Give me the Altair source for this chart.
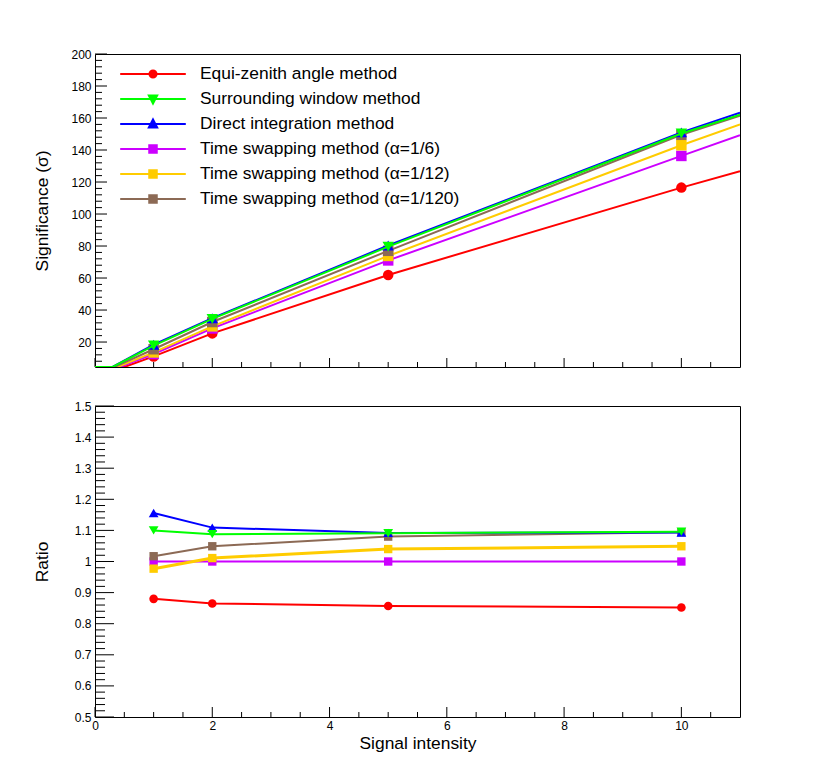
import math
import altair as alt
import pandas as pd

# ---------------- data ----------------
methods = [
    "Equi-zenith angle method",
    "Surrounding window method",
    "Direct integration method",
    "Time swapping method (α=1/6)",
    "Time swapping method (α=1/12)",
    "Time swapping method (α=1/120)",
]
colors = ["#ff0000", "#00ff00", "#0000ff", "#cc00ff", "#ffcc00", "#8c6a55"]
shapes = ["circle", "triangle-down", "triangle-up", "square", "square", "square"]

marker_x = [1, 2, 5, 10]

# Significance (top panel), values at the marker positions
sig_ez = [11.0, 25.4, 61.9, 116.5]
sig_sw = [17.8, 34.5, 79.6, 150.3]
sig_di = [18.3, 34.9, 80.3, 151.0]
sig_ts6 = [12.5, 28.5, 71.0, 136.3]
sig_ts12 = [13.5, 29.8, 73.8, 143.0]
sig_ts120 = [15.5, 32.5, 77.0, 149.5]
sig_values = [sig_ez, sig_sw, sig_di, sig_ts6, sig_ts12, sig_ts120]

# where each curve leaves the bottom of the frame, and its value at x = 11
sig_floor = 4.4
sig_start_x = [0.50, 0.30, 0.30, 0.42, 0.38, 0.33]
sig_end_x = 11
sig_end = [126.7, 162.0, 163.3, 149.2, 156.0, 161.5]

# Ratio (bottom panel)
ratio_ez = [0.880, 0.865, 0.857, 0.852]
ratio_sw = [1.100, 1.088, 1.091, 1.096]
ratio_di = [1.156, 1.109, 1.092, 1.093]
ratio_ts6 = [1.000, 1.000, 1.000, 1.000]
ratio_ts12 = [0.977, 1.011, 1.040, 1.049]
ratio_ts120 = [1.017, 1.049, 1.080, 1.094]
ratio_values = [ratio_ez, ratio_sw, ratio_di, ratio_ts6, ratio_ts12, ratio_ts120]

top_y_labels = [20, 40, 60, 80, 100, 120, 140, 160, 180, 200]
bot_y_labels = [0.5, 0.6, 0.7, 0.8, 0.9, 1.0, 1.1, 1.2, 1.3, 1.4, 1.5]
x_labels = [0, 2, 4, 6, 8, 10]

# ---------------- tables ----------------
line_rows, pt_rows, ratio_rows = [], [], []
for i, m in enumerate(methods):
    line_rows.append({"method": m, "x": 0, "y": sig_floor})
    line_rows.append({"method": m, "x": sig_start_x[i], "y": sig_floor})
    for xv, yv in zip(marker_x, sig_values[i]):
        line_rows.append({"method": m, "x": xv, "y": yv})
        pt_rows.append({"method": m, "x": xv, "y": yv})
    line_rows.append({"method": m, "x": sig_end_x, "y": sig_end[i]})
    for xv, rv in zip(marker_x, ratio_values[i]):
        ratio_rows.append({"method": m, "x": xv, "y": rv})
line_df = pd.DataFrame(line_rows)
pt_df = pd.DataFrame(pt_rows)
ratio_df = pd.DataFrame(ratio_rows)

FONT = "Liberation Sans"
W, H_TOP, H_BOT = 645, 313, 311
draw_order = [0, 3, 4, 5, 2, 1]
top_line_w = [2, 2, 2, 2, 2, 2]
bot_line_w = [2, 2, 2, 2, 3, 2]
top_size = {"circle": 110, "square": 110, "triangle-up": 130, "triangle-down": 130}
bot_size = {"circle": 75, "square": 70, "triangle-up": 95, "triangle-down": 95}

x_scale = alt.Scale(domain=[0, 11], nice=False, zero=False)
ytop_scale = alt.Scale(domain=[sig_floor, 200], nice=False, zero=False)
ybot_scale = alt.Scale(domain=[0.5, 1.5], nice=False, zero=False)

ytop_axis = alt.Axis(values=top_y_labels, title="Significance (σ)", ticks=False, domain=False,
                     grid=False, labelFontSize=12, titleFontSize=17.4, labelPadding=4,
                     minExtent=30, maxExtent=30, titlePadding=14, labelFlush=False)
ybot_axis = alt.Axis(values=bot_y_labels, title="Ratio", format="~g", ticks=False, domain=False,
                     grid=False, labelFontSize=12, titleFontSize=17.4, labelPadding=4,
                     minExtent=30, maxExtent=30, titlePadding=14, labelFlush=False)
xbot_axis = alt.Axis(values=x_labels, title="Signal intensity", ticks=False, domain=False,
                     grid=False, labelFontSize=12, titleFontSize=17.4, labelPadding=3,
                     titlePadding=3, labelFlush=False)


def xe(axis):
    return alt.X("x:Q", scale=x_scale, axis=axis)


def ye(scale, axis):
    return alt.Y("y:Q", scale=scale, axis=axis)


def tick_layers(yscale, yaxis, xaxis, height, y_major, y_minor, y_major_len, y_minor_len,
                x_major_len, x_minor_len):
    x_major = x_labels
    x_minor = [k * 0.5 for k in range(1, 22) if (k * 0.5) not in x_major]
    layers = []
    for vals, ln in ((y_major, y_major_len), (y_minor, y_minor_len)):
        layers.append(alt.Chart(pd.DataFrame({"y": vals})).mark_rule(color="black", strokeWidth=1)
                      .encode(y=ye(yscale, yaxis), x=alt.value(0), x2=alt.value(ln)))
    for vals, ln in ((x_major, x_major_len), (x_minor, x_minor_len)):
        layers.append(alt.Chart(pd.DataFrame({"x": vals})).mark_rule(color="black", strokeWidth=1)
                      .encode(x=xe(xaxis), y=alt.value(height), y2=alt.value(height - ln)))
    return layers


def series_layers(line_data, point_data, yscale, yaxis, xaxis, widths, sizes):
    layers = []
    for i in draw_order:
        m = methods[i]
        flt = alt.datum.method == m
        layers.append(alt.Chart(line_data).transform_filter(flt)
                      .mark_line(color=colors[i], strokeWidth=widths[i], clip=True)
                      .encode(x=xe(xaxis), y=ye(yscale, yaxis), order="x:Q"))
        layers.append(alt.Chart(point_data).transform_filter(flt)
                      .mark_point(filled=True, shape=shapes[i], color=colors[i], opacity=1,
                                  strokeWidth=0, size=sizes[shapes[i]], clip=True)
                      .encode(x=xe(xaxis), y=ye(yscale, yaxis)))
    return layers


# legend symbols: a horizontal line with the marker in its middle
U = 8.0


def poly(pts):
    return "M" + "L".join(f"{px:.3f},{py:.3f}" for px, py in pts) + "Z"


def legend_path(shape):
    line = "M-4.1,0L4.1,0"
    if shape == "circle":
        r = 0.44
        pts = [(r * math.cos(2 * math.pi * k / 16), r * math.sin(2 * math.pi * k / 16)) for k in range(16)]
    elif shape == "square":
        s = 0.47
        pts = [(-s, -s), (s, -s), (s, s), (-s, s)]
    elif shape == "triangle-up":
        pts = [(0, -0.56), (0.52, 0.43), (-0.52, 0.43)]
    else:
        pts = [(0, 0.56), (0.52, -0.43), (-0.52, -0.43)]
    return line + poly(pts)


legend_paths = [legend_path(s) for s in shapes]
leg = alt.Legend(orient="none", legendX=49, legendY=11, title=None, labelFontSize=17.4,
                 labelFont=FONT, labelColor="black", symbolSize=U * U * 4, labelOffset=38,
                 rowPadding=7, padding=0, symbolOpacity=1, labelLimit=400)
legend_layer = (alt.Chart(pt_df).transform_filter("false")
                .mark_point(filled=True, opacity=1, size=U * U * 4)
                .encode(x=xe(None), y=ye(ytop_scale, ytop_axis),
                        fill=alt.Fill("method:N", scale=alt.Scale(domain=methods, range=colors), legend=leg),
                        stroke=alt.Stroke("method:N", scale=alt.Scale(domain=methods, range=colors), legend=leg),
                        shape=alt.Shape("method:N", scale=alt.Scale(domain=methods, range=legend_paths), legend=leg),
                        strokeWidth=alt.StrokeWidth("method:N", scale=alt.Scale(domain=methods, range=bot_line_w),
                                                    legend=leg)))

top_y_minor = [v for v in range(8, 200, 4) if v % 20 != 0]
bot_y_minor = [round(0.5 + 0.02 * k, 2) for k in range(1, 50) if k % 5 != 0]

top = alt.layer(
    *tick_layers(ytop_scale, ytop_axis, None, H_TOP, top_y_labels, top_y_minor, 12, 7, 9, 5),
    *series_layers(line_df, pt_df, ytop_scale, ytop_axis, None, top_line_w, top_size),
    legend_layer,
).properties(width=W, height=H_TOP)

bottom = alt.layer(
    *tick_layers(ybot_scale, ybot_axis, xbot_axis, H_BOT, bot_y_labels, bot_y_minor, 19, 10, 10, 5),
    *series_layers(ratio_df, ratio_df, ybot_scale, ybot_axis, xbot_axis, bot_line_w, bot_size),
).properties(width=W, height=H_BOT)

chart = (
    alt.vconcat(top, bottom, spacing=31)
    .resolve_scale(fill="independent", stroke="independent", shape="independent", strokeWidth="independent")
    .properties(padding={"left": 24, "top": 39, "right": 20, "bottom": 10}, background="white")
    .configure_view(stroke="black", strokeWidth=1)
    .configure_axis(labelFont=FONT, titleFont=FONT, labelColor="black", titleColor="black",
                    titleFontWeight="normal")
    .configure_legend(labelFont=FONT)
)

chart.save("out.html", embed_options={"renderer": "svg", "actions": False})
